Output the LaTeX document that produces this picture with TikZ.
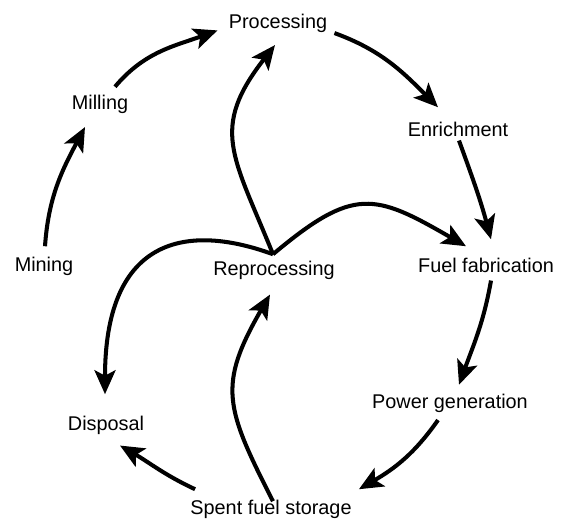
\documentclass[tikz,border=0pt]{standalone}
\usepackage{fontspec}
\setmainfont{Liberation Sans}
\usetikzlibrary{arrows.meta}
\begin{document}
\begin{tikzpicture}[x=0.02cm, y=0.02cm,
    stage/.style={font=\fontsize{11.3}{13}\selectfont, inner sep=0pt,
      text height=8.2pt, text depth=2.4pt, anchor=base},
  flow/.style={line width=2.3pt, -{Stealth[length=4.8mm,width=4.2mm,inset=1.1mm]}},
  ]
\useasboundingbox (0,0) rectangle (562,524);

\node[stage] (proc) at (278,495.5) {Processing};
\node[stage] (mill) at (100,414.5) {Milling};
\node[stage] (enr) at (458,387) {Enrichment};
\node[stage] (mine) at (44,252) {Mining};
\node[stage] (reproc) at (274,248) {Reprocessing};
\node[stage] (fuel) at (486,251) {Fuel fabrication};
\node[stage] (power) at (450,115.5) {Power generation};
\node[stage] (disp) at (106,93) {Disposal};
\node[stage] (spent) at (271,9) {Spent fuel storage};
\coordinate (hub) at ([shift={(-1,7)}]reproc.north);

\draw[flow] ([shift={(1,11)}]mine.north) to[out=86,in=-118] ([shift={(-15,-13)}]mill.south);
\draw[flow] ([shift={(15,8)}]mill.north) to[out=50,in=-160] ([shift={(-11,-7)}]proc.west);
\draw[flow] ([shift={(7,0)}]proc.south east) to[out=-20,in=135] ([shift={(-20,15)}]enr.north);
\draw[flow] ([shift={(1,1)}]enr.south) to[out=-70,in=105] ([shift={(5,19)}]fuel.north);
\draw[flow] ([shift={(5,-3)}]fuel.south) to[out=-100,in=70] ([shift={(9,9)}]power.north);
\draw[flow] ([shift={(-12,-7)}]power.south) to[out=-125,in=30] ([shift={(7,11)}]spent.north east);
\draw[flow] ([shift={(5,11)}]spent.north west) to[out=155,in=-30] ([shift={(14,-10)}]disp.south);
\draw[flow] ([shift={(2,-1)}]spent.north) to[out=117,in=-120,looseness=1.3] ([shift={(-4,-14)}]reproc.south);

\draw[flow] (hub) to[out=112,in=-128,looseness=1.3] ([shift={(-3,-12)}]proc.south);
\draw[flow] (hub) to[out=40,in=150,looseness=1.4] ([shift={(-20,12)}]fuel.north);
\draw[flow] (hub) .. controls +(160:100) and +(90:150) .. ([shift={(-1,22)}]disp.north);

\end{tikzpicture}
\end{document}
